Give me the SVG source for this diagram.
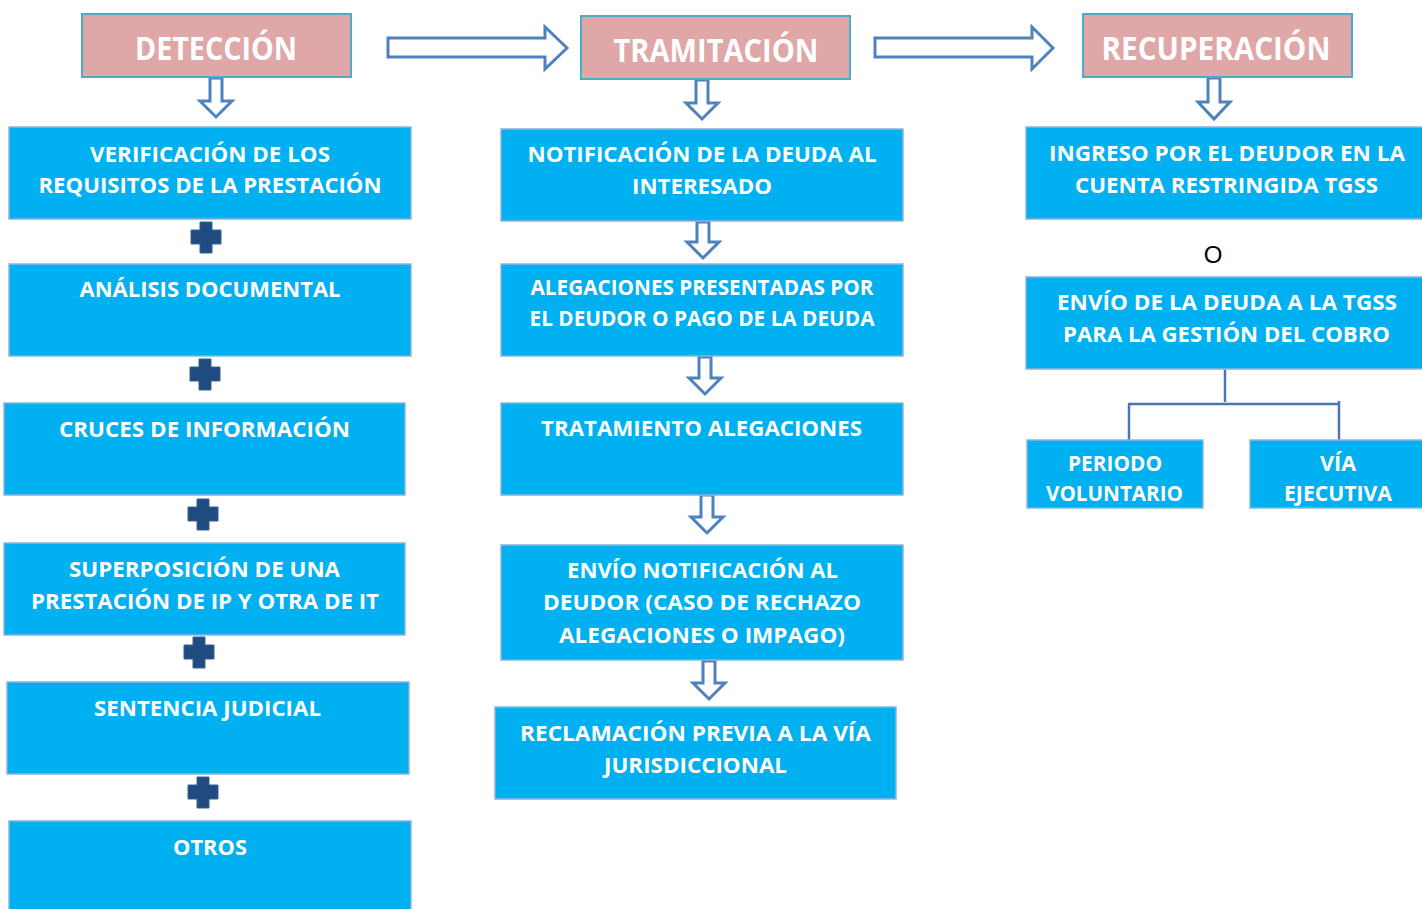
<svg xmlns="http://www.w3.org/2000/svg" width="1422" height="909" viewBox="0 0 1422 909">
<defs>
<style>
.hdr{fill:#dfa7a7;stroke:#4bacc6;stroke-width:2}
.box{fill:#00b0f0;stroke:#8eb4d8;stroke-width:1.5}
.ht{font-family:"Open Sans","Liberation Sans",sans-serif;font-weight:bold;font-size:32px;fill:#ffffff;text-anchor:middle}
.bt{font-family:"Open Sans","Liberation Sans",sans-serif;font-weight:bold;font-size:22px;fill:#ffffff;text-anchor:middle}
.arr{fill:#ffffff;stroke:#4f81bd;stroke-width:3;stroke-linejoin:miter}
.plus{fill:#1f4b80;stroke:#3a6394;stroke-width:1}
.ln{fill:none;stroke:#4f74ad;stroke-width:2.5}
</style>
<path id="plus" d="M-6,-15 H6 V-7 H15 V7 H6 V16 H-6 V7 H-15 V-7 H-6 Z"/>
</defs>
<rect width="1422" height="909" fill="#ffffff"/>

<g id="connectors">
<path class="arr" d="M388,38 H545 V27 L567,48 L545,69 V57 H388 Z"/>
<path class="arr" d="M875,38 H1032 V27 L1053,48 L1032,69 V57 H875 Z"/>
<path class="arr" d="M210,78 H222 V101 H232 L216,117 L200,101 H210 Z"/>
<path class="arr" d="M696,80 H708 V103 H718 L702,119 L686,103 H696 Z"/>
<path class="arr" d="M1208,78 H1220 V102 H1230 L1214,119 L1198,102 H1208 Z"/>
<path class="arr" d="M697,222 H709 V242 H719 L703,258 L687,242 H697 Z"/>
<path class="arr" d="M699,357 H711 V378 H721 L705,394 L689,378 H699 Z"/>
<path class="arr" d="M701,495 H713 V517 H723 L707,533 L691,517 H701 Z"/>
<path class="arr" d="M703,661 H715 V683 H725 L709,699 L693,683 H703 Z"/>
<use href="#plus" class="plus" x="206" y="237"/>
<use href="#plus" class="plus" x="205" y="374"/>
<use href="#plus" class="plus" x="203" y="514"/>
<use href="#plus" class="plus" x="199" y="652"/>
<use href="#plus" class="plus" x="203" y="792"/>
<path class="ln" d="M1225,370 V402"/>
<path class="ln" d="M1128,404 H1340"/>
<path class="ln" d="M1129,404 V440"/>
<path class="ln" d="M1339,401 V440"/>
</g>

<g id="deteccion"><rect class="hdr" x="82" y="14" width="269" height="63"/><text class="ht" x="216" y="60" textLength="162" lengthAdjust="spacingAndGlyphs">DETECCIÓN</text></g>
<g id="tramitacion"><rect class="hdr" x="581" y="16" width="269" height="63"/><text class="ht" x="716" y="62" textLength="205" lengthAdjust="spacingAndGlyphs">TRAMITACIÓN</text></g>
<g id="recuperacion"><rect class="hdr" x="1083" y="14" width="269" height="63"/><text class="ht" x="1216" y="60" textLength="229" lengthAdjust="spacingAndGlyphs">RECUPERACIÓN</text></g>

<g id="verificacion"><rect class="box" x="9" y="127" width="402" height="92"/>
<text class="bt" x="210" y="162" textLength="240" lengthAdjust="spacingAndGlyphs">VERIFICACIÓN DE LOS</text>
<text class="bt" x="210" y="193" textLength="343" lengthAdjust="spacingAndGlyphs">REQUISITOS DE LA PRESTACIÓN</text></g>
<g id="analisis"><rect class="box" x="9" y="264" width="402" height="92"/>
<text class="bt" x="210" y="297" textLength="261" lengthAdjust="spacingAndGlyphs">ANÁLISIS DOCUMENTAL</text></g>
<g id="cruces"><rect class="box" x="4" y="403" width="401" height="92"/>
<text class="bt" x="204.5" y="437" textLength="291" lengthAdjust="spacingAndGlyphs">CRUCES DE INFORMACIÓN</text></g>
<g id="superposicion"><rect class="box" x="4" y="543" width="401" height="92"/>
<text class="bt" x="204.5" y="577" textLength="271" lengthAdjust="spacingAndGlyphs">SUPERPOSICIÓN DE UNA</text>
<text class="bt" x="205" y="609" textLength="348" lengthAdjust="spacingAndGlyphs">PRESTACIÓN DE IP Y OTRA DE IT</text></g>
<g id="sentencia"><rect class="box" x="7" y="682" width="402" height="92"/>
<text class="bt" x="207.5" y="716" textLength="227" lengthAdjust="spacingAndGlyphs">SENTENCIA JUDICIAL</text></g>
<g id="otros"><rect class="box" x="9" y="821" width="402" height="100"/>
<text class="bt" x="210" y="855" textLength="74" lengthAdjust="spacingAndGlyphs">OTROS</text></g>

<g id="notificacion"><rect class="box" x="501" y="129" width="402" height="92"/>
<text class="bt" x="702" y="162" textLength="349" lengthAdjust="spacingAndGlyphs">NOTIFICACIÓN DE LA DEUDA AL</text>
<text class="bt" x="702" y="194" textLength="140" lengthAdjust="spacingAndGlyphs">INTERESADO</text></g>
<g id="alegaciones"><rect class="box" x="501" y="264" width="402" height="92"/>
<text class="bt" x="702" y="295" textLength="343" lengthAdjust="spacingAndGlyphs">ALEGACIONES PRESENTADAS POR</text>
<text class="bt" x="702" y="326" textLength="345" lengthAdjust="spacingAndGlyphs">EL DEUDOR O PAGO DE LA DEUDA</text></g>
<g id="tratamiento"><rect class="box" x="501" y="403" width="402" height="92"/>
<text class="bt" x="701.5" y="436" textLength="321" lengthAdjust="spacingAndGlyphs">TRATAMIENTO  ALEGACIONES</text></g>
<g id="envio-notificacion"><rect class="box" x="501" y="545" width="402" height="115"/>
<text class="bt" x="702.5" y="578" textLength="271" lengthAdjust="spacingAndGlyphs">ENVÍO NOTIFICACIÓN AL</text>
<text class="bt" x="702" y="610" textLength="318" lengthAdjust="spacingAndGlyphs">DEUDOR (CASO DE RECHAZO</text>
<text class="bt" x="702" y="643" textLength="286" lengthAdjust="spacingAndGlyphs">ALEGACIONES O IMPAGO)</text></g>
<g id="reclamacion"><rect class="box" x="495" y="707" width="401" height="92"/>
<text class="bt" x="695.5" y="741" textLength="351" lengthAdjust="spacingAndGlyphs">RECLAMACIÓN PREVIA A LA VÍA</text>
<text class="bt" x="695.5" y="773" textLength="183" lengthAdjust="spacingAndGlyphs">JURISDICCIONAL</text></g>

<g id="ingreso"><rect class="box" x="1026" y="127" width="400" height="92"/>
<text class="bt" x="1227" y="161" textLength="356" lengthAdjust="spacingAndGlyphs">INGRESO POR EL DEUDOR EN LA</text>
<text class="bt" x="1226.5" y="193" textLength="303" lengthAdjust="spacingAndGlyphs">CUENTA  RESTRINGIDA TGSS</text></g>
<g id="o-label"><text x="1213" y="263" font-family="Liberation Sans, Arial, sans-serif" font-size="24" fill="#000000" text-anchor="middle">O</text></g>
<g id="envio-deuda"><rect class="box" x="1026" y="277" width="400" height="92"/>
<text class="bt" x="1227" y="310" textLength="340" lengthAdjust="spacingAndGlyphs">ENVÍO DE LA DEUDA A LA TGSS</text>
<text class="bt" x="1226.5" y="342" textLength="327" lengthAdjust="spacingAndGlyphs">PARA  LA GESTIÓN DEL COBRO</text></g>
<g id="periodo"><rect class="box" x="1027" y="440" width="176" height="68"/>
<text class="bt" x="1115" y="471" textLength="94" lengthAdjust="spacingAndGlyphs">PERIODO</text>
<text class="bt" x="1114.5" y="501" textLength="137" lengthAdjust="spacingAndGlyphs">VOLUNTARIO</text></g>
<g id="via-ejecutiva"><rect class="box" x="1250" y="440" width="176" height="68"/>
<text class="bt" x="1338" y="471" textLength="36" lengthAdjust="spacingAndGlyphs">VÍA</text>
<text class="bt" x="1338" y="501" textLength="108" lengthAdjust="spacingAndGlyphs">EJECUTIVA</text></g>
</svg>
